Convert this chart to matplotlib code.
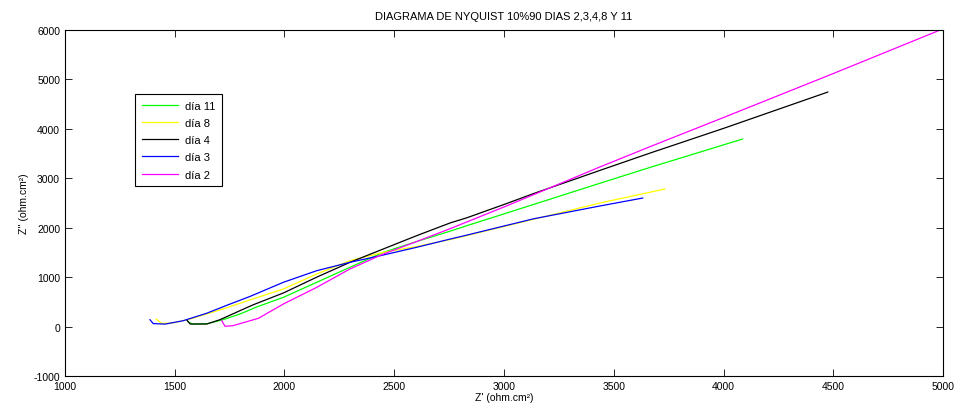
import matplotlib
matplotlib.use('Agg')
import matplotlib.pyplot as plt

plt.rcParams['font.family'] = ['Liberation Sans Narrow', 'Liberation Sans', 'DejaVu Sans']
plt.rcParams['axes.unicode_minus'] = False

# dia 11
x11 = [1560, 1580, 1650, 1720, 1797, 1873, 1995, 2147, 2298, 2450, 2602, 2754, 2830, 3134, 3437, 3665, 4087]
y11 = [100, 50, 60, 139, 254, 396, 592, 896, 1199, 1502, 1720, 1930, 2040, 2470, 2900, 3220, 3795]
# dia 8
x8 = [1415, 1440, 1492, 1570, 1720, 1843, 1995, 2147, 2298, 2450, 2602, 2754, 2830, 3134, 3437, 3733]
y8 = [153, 66, 72, 153, 356, 540, 760, 1064, 1333, 1502, 1620, 1760, 1840, 2170, 2500, 2783]
# dia 4
x4 = [1554, 1570, 1646, 1706, 1797, 1857, 1995, 2147, 2298, 2450, 2602, 2754, 2830, 3000, 3134, 3437, 3665, 4000, 4475]
y4 = [139, 52, 52, 139, 321, 440, 680, 1000, 1300, 1570, 1839, 2096, 2200, 2470, 2690, 3160, 3510, 4010, 4745]
# dia 3
x3 = [1387, 1402, 1456, 1538, 1646, 1737, 1843, 1995, 2147, 2298, 2450, 2602, 2754, 2830, 3134, 3437, 3632]
y3 = [139, 60, 50, 118, 270, 430, 610, 896, 1131, 1300, 1448, 1604, 1770, 1850, 2180, 2440, 2601]
# dia 2
x2 = [1714, 1729, 1765, 1828, 1881, 1995, 2147, 2298, 2450, 2602, 2754, 3000, 3200, 3437, 3665, 4000, 4500, 4979]
y2 = [118, 5, 18, 99, 167, 457, 794, 1165, 1468, 1720, 1980, 2420, 2790, 3230, 3640, 4230, 5120, 5986]

series = [
    (x11, y11, '#00ff00', 'día 11'),
    (x8, y8, '#ffff00', 'día 8'),
    (x4, y4, '#000000', 'día 4'),
    (x3, y3, '#0000ff', 'día 3'),
    (x2, y2, '#ff00ff', 'día 2'),
]

fig = plt.figure(figsize=(9.6, 4.14), dpi=100)
ax = fig.add_axes([0.0677, 0.0894, 0.9146, 0.8356])

for xs, ys, c, lab in series:
    ax.plot(xs, ys, color=c, lw=0.9, label=lab)

ax.set_xlim(1000, 5000)
ax.set_ylim(-1000, 6000)
ax.set_xticks(range(1000, 5001, 500))
ax.set_yticks(range(-1000, 6001, 1000))
ax.tick_params(direction='in', top=True, right=True, length=5, labelsize=7.5, width=0.6)
for s in ax.spines.values():
    s.set_linewidth(0.8)

ax.set_title('DIAGRAMA DE NYQUIST 10%90 DIAS 2,3,4,8 Y 11', fontsize=8, pad=8)
ax.set_xlabel("Z' (ohm.cm²)", fontsize=7.5, labelpad=1)
ax.set_ylabel("Z'' (ohm.cm²)", fontsize=7.5, labelpad=3)

leg = ax.legend(loc='upper left', bbox_to_anchor=(0.0797, 0.815), fontsize=8,
                fancybox=False, framealpha=1, edgecolor='black', handlelength=3.3,
                borderaxespad=0, labelspacing=0.65, handletextpad=0.6,
                borderpad=0.6)
leg.get_frame().set_linewidth(0.8)

fig.savefig('out.png', dpi=100)
